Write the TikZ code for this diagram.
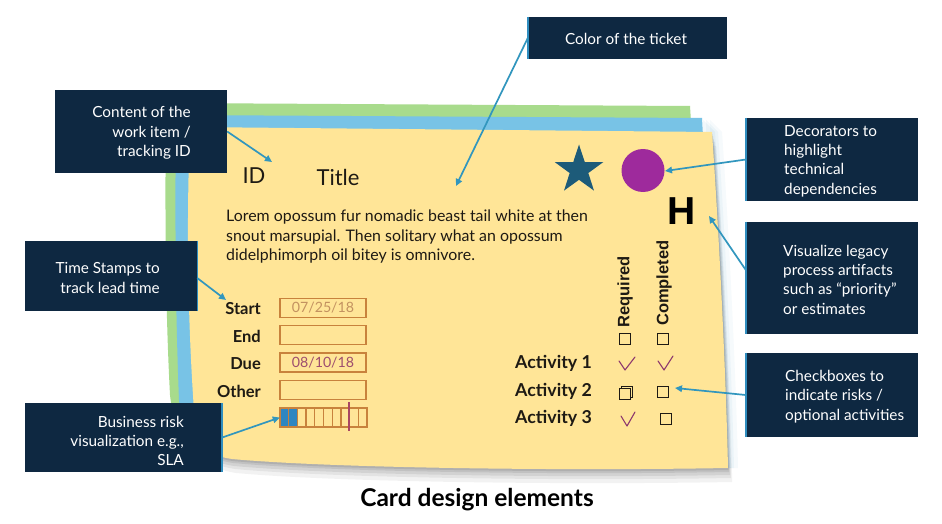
\documentclass[tikz,border=0pt]{standalone}
\usepackage{fontspec}
\setmainfont{Lato}
\newfontfamily\arialf{Liberation Sans}
\usetikzlibrary{arrows.meta,shapes.geometric,calc}
\definecolor{navy}{HTML}{0E2841}
\definecolor{stripec}{HTML}{2F8DBF}
\definecolor{arrowc}{HTML}{3196BE}
\definecolor{cardy}{HTML}{FFE597}
\definecolor{cardb}{HTML}{78C3E6}
\definecolor{cardg}{HTML}{A8DB8C}
\definecolor{starc}{HTML}{1D5B79}
\definecolor{dotc}{HTML}{9E2A9C}
\definecolor{fieldc}{HTML}{C8823C}
\definecolor{startc}{HTML}{C39260}
\definecolor{duec}{HTML}{9E4E6E}
\definecolor{checkc}{HTML}{8E3A6E}
\definecolor{riskc}{HTML}{2E86C1}
\definecolor{inkc}{HTML}{1E1A14}
\begin{document}
\begin{tikzpicture}[x=1pt,y=-1pt,
  lbl/.style={fill=navy, inner sep=0pt},
  lbltxt/.style={text=white, inner sep=0pt, font=\fontsize{15.3}{19.3}\selectfont},
  stripe/.style={draw=stripec, line width=2.2pt},
  arr/.style={draw=arrowc, line width=1.7pt, -{Triangle[length=7pt,width=6.5pt]}},
  field/.style={draw=fieldc, line width=1.6pt, minimum width=86pt, minimum height=19pt, inner sep=0pt, font=\fontsize{14.2}{15}\selectfont},
  flabel/.style={anchor=east, inner sep=0pt, text=inkc, font=\bfseries\fontsize{16.5}{18}\selectfont},
  alabel/.style={anchor=west, inner sep=0pt, text=inkc, font=\bfseries\fontsize{17.8}{19}\selectfont},
  cbox/.style={draw=inkc, line width=0.8pt, minimum size=11pt, inner sep=0pt},
  chk/.style={draw=checkc, line width=1.1pt, line cap=round, line join=round}
]
\useasboundingbox (0,0) rectangle (942,524);
\fill[white] (0,0) rectangle (942,524);

% shadow
\def\cardpath{(190,127) -- (712,132) .. controls (720,250) and (726,380) .. (728,468) .. controls (560,471) and (330,468) .. (232,459) .. controls (205,455) and (198,445) .. (195,425) .. controls (188,330) and (186,230) .. cycle}
\foreach \s/\o in {14/0.05,10/0.06,7/0.07,4/0.08,2/0.09}{
  \fill[black, opacity=\o, shift={(\s*0.3,\s)}] \cardpath;
}
\foreach \s/\o in {10/0.04,6/0.05,3/0.06}{
  \fill[stripec, opacity=\o, shift={(\s,0)}] (700,120) -- (712,132) .. controls (720,250) and (726,380) .. (728,468) -- (700,468) -- cycle;
}
% green sheet
\fill[cardg] (166,103) -- (690,106) -- (702,300) -- (702,440) -- (200,442) .. controls (180,432) and (172,415) .. (170,395) .. controls (165,300) and (165,200) .. cycle;
% blue sheet
\fill[cardb] (176,115) -- (702,118) -- (712,300) -- (714,450) -- (205,448) .. controls (188,440) and (181,420) .. (179,400) .. controls (175,300) and (175,200) .. cycle;
% yellow card
\fill[cardy] \cardpath;

% card content
\node[text=inkc, inner sep=0pt, font=\fontsize{22}{26}\selectfont] (id) at (254,176) {ID};
\node[text=inkc, inner sep=0pt, font=\fontsize{22}{26}\selectfont] (title) at (338,177) {Title};
\node[text=inkc, inner sep=0pt, anchor=west, align=left, font=\fontsize{15.9}{19.5}\selectfont] (lorem) at (226,237)
  {Lorem opossum fur nomadic beast tail white at then\\snout marsupial. Then solitary what an opossum\\didelphimorph oil bitey is omnivore.};
\node[star, star points=5, star point ratio=2.6, fill=starc, minimum size=51pt, inner sep=0pt] (star) at (579,170) {};
\node[circle, fill=dotc, minimum size=43pt, inner sep=0pt] (dot) at (643,170.5) {};
\node[inner sep=0pt, font=\arialf\bfseries\fontsize{39}{40}\selectfont] (hh) at (682,211) {H};
\node[rotate=90, anchor=west, inner sep=0pt, text=inkc, font=\arialf\bfseries\fontsize{16.5}{18}\selectfont] (req) at (625,328) {Required};
\node[rotate=90, anchor=west, inner sep=0pt, text=inkc, font=\arialf\bfseries\fontsize{16.5}{18}\selectfont] (comp) at (664,326) {Completed};
\node[cbox] (rb0) at (624.5,339) {};
\node[cbox] (cb0) at (662.5,339) {};
\node[alabel] (a1) at (515,363) {Activity 1};
\node[alabel] (a2) at (515,391) {Activity 2};
\node[alabel] (a3) at (515,418.5) {Activity 3};
\draw[chk] (619,361) -- (625,370) -- (635,357);
\draw[chk] (658,361) -- (664,370) -- (673,356);
\draw[chk] (621,416) -- (627,426) -- (635,412);
\node[cbox] (rb2b) at (627,391.5) {};
\node[cbox, fill=cardy] (rb2) at (624.5,394) {};
\node[cbox] (cb2) at (662.5,391.5) {};
\node[cbox] (cb3) at (665.5,418.5) {};

% fields
\node[flabel] (lstart) at (261,308.5) {Start};
\node[flabel] (lend) at (261,336) {End};
\node[flabel] (ldue) at (261,363.5) {Due};
\node[flabel] (lother) at (261,391) {Other};
\node[field, text=startc] (fstart) at (323,308) {07/25/18};
\node[field] (fend) at (323,335) {};
\node[field, text=duec] (fdue) at (323,362.5) {08/10/18};
\node[field] (fother) at (323,390) {};
\node[minimum width=87pt, minimum height=19pt, inner sep=0pt] (risk) at (323.5,417.5) {};
\fill[riskc] (280,408) rectangle (297.4,427);
\foreach \i in {1,...,9}{\draw[fieldc, line width=1.3pt] (280+\i*8.7,408) -- (280+\i*8.7,427);}
\draw[fieldc, line width=1.6pt] (280,408) rectangle (367,427);
\draw[duec!90!red, line width=2pt] (349,402) -- (349,431);

% label boxes
\node[lbl, minimum width=199pt, minimum height=42pt] (ticket) at (627.5,38) {};
\draw[stripe] (ticket.north west) -- (ticket.south west);
\node[lbltxt] (tickett) at (626,39) {Color of the ticket};

\node[lbl, minimum width=172pt, minimum height=83pt] (content) at (141,131.5) {};
\node[lbltxt, anchor=east, align=right] (contentt) at (191,133) {Content of the\\work item /{}\\tracking ID};

\node[lbl, minimum width=172pt, minimum height=70pt] (stamps) at (111,276) {};
\draw[stripe, line width=1.2pt] (stamps.north east) -- (stamps.south east);
\node[lbltxt, anchor=east, align=right] (stampst) at (160,278) {Time Stamps to\\track lead time};

\node[lbl, minimum width=197pt, minimum height=69pt] (biz) at (123.5,437.5) {};
\draw[stripe] (biz.north east) -- (biz.south east);
\node[lbltxt, anchor=east, align=right] (bizt) at (184,441) {Business risk\\visualization e.g.,\\SLA};

\node[lbl, minimum width=172pt, minimum height=83pt] (decor) at (832,159.5) {};
\draw[stripe] (decor.north west) -- (decor.south west);
\node[lbltxt, anchor=west, align=left] (decort) at (784,161) {Decorators to\\highlight\\technical\\dependencies};

\node[lbl, minimum width=172pt, minimum height=112pt] (vis) at (832,278) {};
\draw[stripe] (vis.north west) -- (vis.south west);
\node[lbltxt, anchor=west, align=left] (vist) at (783,279.5) {Visualize legacy\\process artifacts\\such as “priority”\\or estimates};

\node[lbl, minimum width=172pt, minimum height=84pt] (chkb) at (832,395) {};
\draw[stripe] (chkb.north west) -- (chkb.south west);
\node[lbltxt, anchor=west, align=left] (chkbt) at (785,396.5) {Checkboxes to\\indicate risks /{}\\optional activities};

% connectors
\coordinate (tkt) at (456,186);
\coordinate (cid) at (272,162);
\coordinate (cst) at (226,300);
\coordinate (hpt) at (709,216);
\coordinate (cbx) at (675,388);
\coordinate (dpt) at (665,171);
\draw[arr] (ticket.west) -- (tkt);
\draw[arr] (content.east) -- (cid);
\draw[arr] ($(stamps.east)+(0,2)$) -- (cst);
\draw[arr] (biz.east) -- (risk.west);
\draw[arr] (decor.west) -- (dpt);
\draw[arr] ($(vis.west)+(0,-8)$) -- (hpt);
\draw[arr] (chkb.west) -- (cbx);

\node[inner sep=0pt, text=black, font=\bfseries\fontsize{24.5}{28}\selectfont] (cap) at (477,500) {Card design elements};
\end{tikzpicture}
\end{document}
